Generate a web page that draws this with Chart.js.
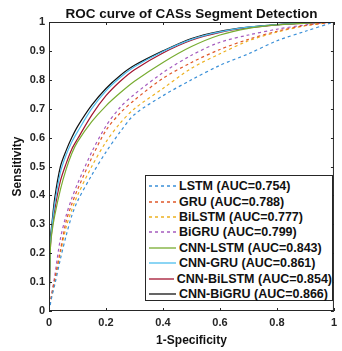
<!DOCTYPE html>
<html>
<head>
<meta charset="utf-8">
<script src="https://cdn.jsdelivr.net/npm/chart.js@4.4.0/dist/chart.umd.min.js"></script>
<style>
  body { margin: 0; background: #fff; }
  #wrap { position: relative; width: 342px; height: 351px; }
  #legend {
    position: absolute; left: 145px; top: 175px; width: 188px; height: 126px;
    border: 1px solid #262626; background: #fff; box-sizing: border-box;
    font: bold 12.5px "Liberation Sans", Arial, sans-serif; color: #111;
    padding-top: 2.5px;
  }
  .row { display: flex; align-items: center; height: 15.4px; white-space: nowrap; }
  .row svg { margin-left: 3px; margin-right: 3px; }
</style>
</head>
<body>
<div id="wrap">
  <canvas id="roc" width="342" height="351"></canvas>
  <div id="legend"></div>
</div>
<script>
// false positive rate grid shared by all curves
const fpr = [0, 0.005, 0.01, 0.02, 0.04, 0.06, 0.08, 0.1, 0.15, 0.2, 0.25, 0.3, 0.4, 0.5, 0.6, 0.7, 0.8, 0.9, 1];

const lstm      = [0, 0.025, 0.05, 0.09, 0.18, 0.26, 0.33, 0.38, 0.47, 0.55, 0.62, 0.68, 0.745, 0.8, 0.85, 0.89, 0.935, 0.968, 1];
const gru       = [0, 0.03, 0.06, 0.11, 0.21, 0.31, 0.37, 0.42, 0.53, 0.625, 0.685, 0.73, 0.805, 0.86, 0.905, 0.94, 0.968, 0.988, 1];
const bilstm    = [0, 0.03, 0.055, 0.1, 0.2, 0.29, 0.35, 0.4, 0.5, 0.585, 0.65, 0.7, 0.77, 0.84, 0.89, 0.935, 0.965, 0.987, 1];
const bigru     = [0, 0.03, 0.06, 0.12, 0.25, 0.33, 0.39, 0.44, 0.55, 0.64, 0.705, 0.75, 0.825, 0.885, 0.93, 0.955, 0.975, 0.99, 1];
const cnnLstm   = [0, 0.22, 0.27, 0.33, 0.42, 0.49, 0.545, 0.585, 0.655, 0.71, 0.755, 0.795, 0.86, 0.915, 0.955, 0.978, 0.99, 0.996, 1];
const cnnGru    = [0, 0.23, 0.29, 0.37, 0.48, 0.54, 0.585, 0.62, 0.70, 0.762, 0.808, 0.845, 0.898, 0.94, 0.966, 0.982, 0.991, 0.997, 1];
const cnnBilstm = [0, 0.22, 0.28, 0.35, 0.45, 0.51, 0.56, 0.595, 0.678, 0.745, 0.795, 0.835, 0.893, 0.937, 0.964, 0.98, 0.99, 0.996, 1];
const cnnBigru  = [0, 0.25, 0.3, 0.39, 0.5, 0.555, 0.6, 0.638, 0.712, 0.77, 0.815, 0.85, 0.9, 0.943, 0.968, 0.982, 0.991, 0.997, 1];

const labels = ["LSTM (AUC=0.754)", "GRU (AUC=0.788)", "BiLSTM (AUC=0.777)", "BiGRU (AUC=0.799)",
                "CNN-LSTM (AUC=0.843)", "CNN-GRU (AUC=0.861)", "CNN-BiLSTM (AUC=0.854)", "CNN-BiGRU (AUC=0.866)"];
const series = [lstm, gru, bilstm, bigru, cnnLstm, cnnGru, cnnBilstm, cnnBigru];
const colors = ["#3b90d8", "#e0582a", "#edb120", "#a55cbf", "#77ac30", "#4dbeee", "#a2142f", "#111111"];
const dashed = [true, true, true, true, false, false, false, false];

const xTicks = [0, 0.2, 0.4, 0.6, 0.8, 1];
const yTicks = [0, 0.1, 0.2, 0.3, 0.4, 0.5, 0.6, 0.7, 0.8, 0.9, 1];
const chartTitle = "ROC curve of CASs Segment Detection";

const datasets = series.map((ys, i) => ({
  label: labels[i],
  data: fpr.map((x, j) => ({ x: x, y: ys[j] })),
  borderColor: colors[i],
  backgroundColor: colors[i],
  borderWidth: 1.2,
  borderDash: dashed[i] ? [3, 3] : [],
  showLine: true,
  pointRadius: 0,
  tension: 0.3,
  fill: false
}));

// box round the plot, short inward ticks and a title centred on the plot
const frame = {
  id: "frame",
  afterDatasetsDraw(chart) {
    const { ctx, chartArea: a, scales } = chart;
    ctx.save();
    ctx.strokeStyle = "#262626";
    ctx.lineWidth = 1;
    ctx.strokeRect(a.left + 0.5, a.top + 0.5, a.right - a.left - 1, a.bottom - a.top - 1);
    ctx.beginPath();
    xTicks.forEach(v => {
      const px = Math.round(scales.x.getPixelForValue(v)) + 0.5;
      ctx.moveTo(px, a.bottom); ctx.lineTo(px, a.bottom - 3);
      ctx.moveTo(px, a.top); ctx.lineTo(px, a.top + 3);
    });
    yTicks.forEach(v => {
      const py = Math.round(scales.y.getPixelForValue(v)) + 0.5;
      ctx.moveTo(a.left, py); ctx.lineTo(a.left + 3, py);
      ctx.moveTo(a.right, py); ctx.lineTo(a.right - 3, py);
    });
    ctx.stroke();

    ctx.fillStyle = "#111";
    ctx.font = "bold 13.5px 'Liberation Sans', Arial, sans-serif";
    ctx.textAlign = "center";
    ctx.textBaseline = "alphabetic";
    ctx.fillText(chartTitle, (a.left + a.right) / 2, a.top - 4);
    ctx.restore();
  }
};

const tickFont = { family: "'Liberation Sans', Arial, sans-serif", size: 11, weight: "bold" };
const titleFont = { family: "'Liberation Sans', Arial, sans-serif", size: 12, weight: "bold" };

new Chart(document.getElementById("roc"), {
  type: "scatter",
  data: { datasets: datasets },
  plugins: [frame],
  options: {
    responsive: false,
    animation: false,
    layout: { padding: { top: 22, right: 4 } },
    plugins: {
      legend: { display: false },
      tooltip: { enabled: false }
    },
    scales: {
      x: {
        type: "linear", min: 0, max: 1,
        grid: { display: false, drawTicks: false, tickLength: 0 }, border: { display: false },
        afterBuildTicks: s => { s.ticks = xTicks.map(v => ({ value: v })); },
        afterFit: s => { s.height = 40; },
        ticks: { color: "#262626", font: tickFont, padding: 5, callback: v => String(+v.toFixed(1)) },
        title: { display: true, text: "1-Specificity", color: "#111", font: titleFont, padding: { top: 0, bottom: 2.8 } }
      },
      y: {
        min: 0, max: 1,
        grid: { display: false, drawTicks: false, tickLength: 0 }, border: { display: false },
        afterBuildTicks: s => { s.ticks = yTicks.map(v => ({ value: v })); },
        afterFit: s => { s.width = 49; },
        ticks: { color: "#262626", font: tickFont, padding: 4, callback: v => String(+v.toFixed(1)) },
        title: { display: true, text: "Sensitivity", color: "#111", font: titleFont, padding: { top: 10, bottom: 0 } }
      }
    }
  }
});

// legend drawn as html over the lower right of the plot
const legend = document.getElementById("legend");
labels.forEach((lab, i) => {
  const row = document.createElement("div");
  row.className = "row";
  row.innerHTML = `<svg width="27" height="4"><line x1="0" y1="2" x2="27" y2="2" stroke="${colors[i]}"
    stroke-width="1.3" ${dashed[i] ? 'stroke-dasharray="3,3"' : ""}/></svg><span>${lab}</span>`;
  legend.appendChild(row);
});
</script>
</body>
</html>
